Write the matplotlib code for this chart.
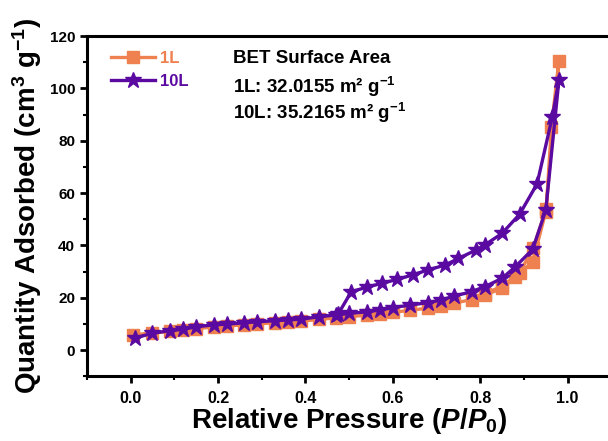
import numpy as np
import matplotlib
matplotlib.use('Agg')
import matplotlib.pyplot as plt
from matplotlib.ticker import MultipleLocator

plt.rcParams['font.family'] = ['Liberation Sans', 'DejaVu Sans']
plt.rcParams['font.weight'] = 'bold'
plt.rcParams['mathtext.fontset'] = 'custom'
plt.rcParams['mathtext.rm'] = 'Liberation Sans:bold'
plt.rcParams['mathtext.bf'] = 'Liberation Sans:bold'
plt.rcParams['mathtext.it'] = 'Liberation Sans:italic:bold'

# 1L isotherm
x1_ads = [0.005, 0.05, 0.09, 0.12, 0.15, 0.19, 0.22, 0.26, 0.29, 0.33, 0.36, 0.39, 0.43,
          0.47, 0.50, 0.54, 0.57, 0.60, 0.64, 0.68, 0.71, 0.74, 0.78, 0.81, 0.85, 0.88,
          0.92, 0.95, 0.98]
y1_ads = [5.8, 6.5, 7.1, 7.5, 8.2, 8.8, 9.2, 9.6, 10.0, 10.4, 10.7, 11.0, 11.7,
          12.3, 12.8, 13.3, 13.8, 14.4, 15.2, 16.0, 16.9, 17.9, 19.3, 21.0, 23.6, 27.8,
          33.7, 52.9, 110.6]
x1_des = [0.98, 0.963, 0.951, 0.921, 0.89, 0.85, 0.81]
y1_des = [110.6, 85.4, 54.1, 38.9, 29.5, 24.3, 21.6]

# 10L isotherm
x10_ads = [0.01, 0.05, 0.09, 0.12, 0.15, 0.19, 0.22, 0.26, 0.29, 0.33, 0.36, 0.39, 0.43,
           0.47, 0.50, 0.54, 0.57, 0.60, 0.64, 0.68, 0.71, 0.74, 0.78, 0.81, 0.85, 0.88,
           0.92, 0.95, 0.98]
y10_ads = [4.6, 6.4, 7.4, 7.9, 8.9, 9.6, 9.9, 10.4, 10.8, 11.2, 11.5, 11.8, 12.7,
           13.4, 14.0, 14.6, 15.3, 16.2, 17.2, 18.1, 19.1, 20.6, 22.3, 24.2, 27.4, 31.8,
           38.5, 53.5, 103.2]
x10_des = [0.98, 0.965, 0.93, 0.89, 0.85, 0.81, 0.79, 0.75, 0.72, 0.68, 0.645, 0.61,
           0.575, 0.54, 0.505, 0.475]
y10_des = [103.2, 89.2, 63.5, 51.9, 44.6, 40.1, 38.2, 35.0, 32.5, 30.6, 28.7, 27.0,
           25.5, 24.0, 22.3, 13.8]

orange = '#EF8050'
purple = '#5A0AA0'

fig = plt.figure(figsize=(6.08, 4.41), dpi=100)
ax = fig.add_axes([0.143, 0.147, 0.8625, 0.771])

x1 = x1_ads + x1_des[1:]
y1 = y1_ads + y1_des[1:]
x10 = x10_ads + x10_des[1:]
y10 = y10_ads + y10_des[1:]
ax.plot(x1, y1, color=orange, lw=2.4, marker='s', ms=8.5, label='1L')
ax.plot(x10, y10, color=purple, lw=2.4, marker='*', ms=12, label='10L')

ax.set_xlim(-0.1, 1.1)
ax.set_ylim(-10, 120)
ax.xaxis.set_major_locator(MultipleLocator(0.2))
ax.xaxis.set_minor_locator(MultipleLocator(0.1))
ax.yaxis.set_major_locator(MultipleLocator(20))
ax.yaxis.set_minor_locator(MultipleLocator(10))
ax.set_xticks([0.0, 0.2, 0.4, 0.6, 0.8, 1.0])
ax.tick_params(which='major', length=5, width=2)
ax.tick_params(which='minor', length=3, width=1.5)
ax.tick_params(axis='x', which='major', labelsize=11.5, pad=6)
ax.tick_params(axis='y', which='major', labelsize=11)
for s in ax.spines.values():
    s.set_linewidth(2.2)
ax.spines['right'].set_visible(False)

ax.set_xlabel(r'Relative Pressure ($\mathit{P}$/$\mathit{P}_{0}$)', fontsize=20,
              fontweight='bold', labelpad=0)
ax.set_ylabel(r'Quantity Adsorbed (cm$^{3}$ g$^{-1}$)', fontsize=20,
              fontweight='bold', labelpad=4)

leg = ax.legend(loc='upper left', bbox_to_anchor=(0.034, 0.975), borderaxespad=0,
                frameon=False, fontsize=12, handlelength=2.6, handletextpad=0.3,
                labelspacing=0.45)
for t, c in zip(leg.get_texts(), [orange, purple]):
    t.set_color(c)
    t.set_fontweight('bold')

ax.text(0.279, 0.935, 'BET Surface Area', transform=ax.transAxes, fontsize=13.5,
        fontweight='bold', va='center')
ax.text(0.279, 0.85, r'1L: 32.0155 m² g$^{-1}$', transform=ax.transAxes, fontsize=13.5,
        fontweight='bold', va='center')
ax.text(0.279, 0.774, r'10L: 35.2165 m² g$^{-1}$', transform=ax.transAxes, fontsize=13.5,
        fontweight='bold', va='center')

fig.savefig('out.png', dpi=100)
